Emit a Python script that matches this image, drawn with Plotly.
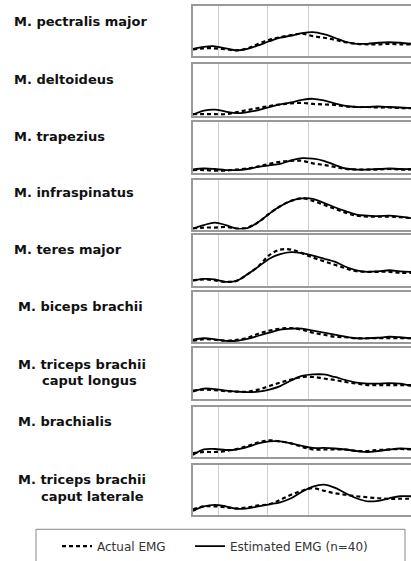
import plotly.graph_objects as go

# shared time axis (percent of cycle, visible part)
x = [0, 5, 10, 15, 20, 25, 30, 35, 40, 45, 50, 55, 60, 65, 70, 75, 80, 85, 90, 95, 100]
grid_x = [11.5, 34.4, 52.8]

muscles = [
    "M. pectralis major",
    "M. deltoideus",
    "M. trapezius",
    "M. infraspinatus",
    "M. teres major",
    "M. biceps brachii",
    "M. triceps brachii|caput longus",
    "M. brachialis",
    "M. triceps brachii|caput laterale",
]

actual_pectralis = [0.14, 0.16, 0.16, 0.14, 0.12, 0.16, 0.25, 0.33, 0.38, 0.42, 0.45, 0.40, 0.37, 0.33, 0.28, 0.25, 0.24, 0.24, 0.25, 0.24, 0.24]
est_pectralis    = [0.15, 0.19, 0.20, 0.16, 0.12, 0.15, 0.22, 0.30, 0.37, 0.41, 0.46, 0.48, 0.44, 0.37, 0.29, 0.25, 0.25, 0.27, 0.28, 0.27, 0.25]

actual_deltoideus = [0.03, 0.03, 0.03, 0.03, 0.07, 0.11, 0.15, 0.19, 0.22, 0.24, 0.25, 0.23, 0.22, 0.21, 0.18, 0.17, 0.17, 0.16, 0.16, 0.15, 0.15]
est_deltoideus    = [0.02, 0.10, 0.12, 0.08, 0.05, 0.07, 0.11, 0.17, 0.22, 0.26, 0.31, 0.33, 0.30, 0.24, 0.19, 0.17, 0.17, 0.18, 0.17, 0.16, 0.15]

actual_trapezius = [0.06, 0.06, 0.05, 0.05, 0.07, 0.09, 0.13, 0.18, 0.22, 0.24, 0.24, 0.19, 0.16, 0.12, 0.08, 0.07, 0.07, 0.07, 0.08, 0.07, 0.07]
est_trapezius    = [0.07, 0.09, 0.08, 0.06, 0.06, 0.08, 0.12, 0.15, 0.18, 0.25, 0.29, 0.28, 0.24, 0.16, 0.09, 0.07, 0.07, 0.08, 0.09, 0.08, 0.08]

actual_infraspinatus = [0.02, 0.04, 0.04, 0.05, 0.02, 0.04, 0.15, 0.32, 0.47, 0.58, 0.63, 0.58, 0.50, 0.42, 0.34, 0.28, 0.26, 0.26, 0.26, 0.25, 0.23]
est_infraspinatus    = [0.02, 0.09, 0.14, 0.09, 0.02, 0.03, 0.15, 0.32, 0.47, 0.58, 0.63, 0.62, 0.54, 0.45, 0.37, 0.30, 0.28, 0.27, 0.28, 0.26, 0.23]

actual_teres = [0.11, 0.13, 0.11, 0.08, 0.10, 0.23, 0.39, 0.61, 0.72, 0.72, 0.65, 0.56, 0.49, 0.42, 0.35, 0.29, 0.28, 0.28, 0.28, 0.26, 0.26]
est_teres    = [0.11, 0.14, 0.13, 0.08, 0.10, 0.23, 0.38, 0.54, 0.63, 0.67, 0.65, 0.60, 0.54, 0.48, 0.38, 0.31, 0.28, 0.29, 0.31, 0.29, 0.28]

actual_biceps = [0.03, 0.06, 0.05, 0.03, 0.05, 0.09, 0.17, 0.23, 0.27, 0.28, 0.25, 0.19, 0.15, 0.11, 0.10, 0.08, 0.08, 0.08, 0.08, 0.08, 0.08]
est_biceps    = [0.05, 0.08, 0.06, 0.03, 0.03, 0.07, 0.13, 0.19, 0.25, 0.27, 0.27, 0.23, 0.19, 0.15, 0.11, 0.08, 0.08, 0.09, 0.11, 0.10, 0.08]

actual_tric_long = [0.16, 0.18, 0.17, 0.15, 0.14, 0.14, 0.18, 0.25, 0.32, 0.38, 0.43, 0.43, 0.40, 0.37, 0.33, 0.30, 0.27, 0.27, 0.27, 0.27, 0.27]
est_tric_long    = [0.14, 0.20, 0.19, 0.16, 0.14, 0.13, 0.14, 0.18, 0.25, 0.36, 0.45, 0.48, 0.48, 0.43, 0.37, 0.32, 0.30, 0.30, 0.31, 0.30, 0.25]

actual_brachialis = [0.08, 0.10, 0.10, 0.12, 0.16, 0.22, 0.29, 0.33, 0.31, 0.27, 0.20, 0.15, 0.15, 0.15, 0.15, 0.12, 0.12, 0.14, 0.15, 0.16, 0.15]
est_brachialis    = [0.04, 0.15, 0.16, 0.14, 0.15, 0.20, 0.27, 0.31, 0.31, 0.27, 0.22, 0.18, 0.18, 0.17, 0.15, 0.12, 0.10, 0.12, 0.15, 0.17, 0.16]

actual_tric_lat = [0.12, 0.18, 0.18, 0.16, 0.14, 0.16, 0.20, 0.22, 0.31, 0.41, 0.49, 0.54, 0.49, 0.44, 0.41, 0.38, 0.36, 0.34, 0.33, 0.33, 0.33]
est_tric_lat    = [0.09, 0.18, 0.21, 0.18, 0.13, 0.14, 0.18, 0.22, 0.26, 0.34, 0.47, 0.57, 0.61, 0.55, 0.44, 0.34, 0.28, 0.29, 0.34, 0.38, 0.38]

actual = [actual_pectralis, actual_deltoideus, actual_trapezius, actual_infraspinatus, actual_teres,
          actual_biceps, actual_tric_long, actual_brachialis, actual_tric_lat]
estimated = [est_pectralis, est_deltoideus, est_trapezius, est_infraspinatus, est_teres,
             est_biceps, est_tric_long, est_brachialis, est_tric_lat]

W, H = 411, 561
panel_top = [6, 65, 123, 182, 238, 295, 352, 411, 470]
panel_bot = [57, 117, 175, 232, 289, 346, 403, 462, 521]
label_pos = [  # (x, y) px for each line
    [(12, 22)], [(12, 80)], [(12, 138)], [(12, 195)], [(12, 252)],
    [(16, 310)], [(16, 368), (40, 385)], [(16, 426)], [(16, 485), (39, 502)],
]

fig = go.Figure()
layout = dict(
    width=W, height=H, margin=dict(l=0, r=0, t=0, b=0),
    paper_bgcolor="white", plot_bgcolor="white",
    showlegend=True,
)
annotations = []
for i in range(9):
    n = "" if i == 0 else str(i + 1)
    fig.add_trace(go.Scatter(
        x=x, y=actual[i], mode="lines", name="Actual EMG",
        line=dict(color="black", width=2.2, dash="4px,3px", shape="spline"),
        xaxis="x" + n, yaxis="y" + n, showlegend=(i == 0), legend="legend",
    ))
    fig.add_trace(go.Scatter(
        x=x, y=estimated[i], mode="lines", name="Estimated EMG (n=40)",
        line=dict(color="black", width=1.8, shape="spline"),
        xaxis="x" + n, yaxis="y" + n, showlegend=(i == 0), legend="legend2",
    ))
    layout["xaxis" + n] = dict(
        domain=[193 / W, 1], range=[0, 100], anchor="y" + n,
        tickvals=grid_x, showgrid=True, gridcolor="#cfcfcf", gridwidth=1,
        showticklabels=False, ticks="", zeroline=False,
        showline=True, linecolor="#999999", linewidth=1.5, mirror=True,
    )
    layout["yaxis" + n] = dict(
        domain=[1 - panel_bot[i] / H, 1 - panel_top[i] / H], range=[0, 1], anchor="x" + n,
        showgrid=False, showticklabels=False, ticks="", zeroline=False,
        showline=True, linecolor="#999999", linewidth=1.5, mirror=False,
    )
    for line_text, (px, py) in zip(muscles[i].split("|"), label_pos[i]):
        annotations.append(dict(
            text=line_text, xref="paper", yref="paper", x=px / W, y=1 - py / H,
            xanchor="left", yanchor="middle", showarrow=False,
            font=dict(family="DejaVu Sans", size=13, color="#111111", weight="bold"),
        ))

layout["annotations"] = annotations
layout["shapes"] = [dict(
    type="rect", xref="paper", yref="paper",
    x0=36 / W, x1=405 / W, y0=1 - 535 / H, y1=-0.05,
    line=dict(color="#888888", width=1), fillcolor="rgba(0,0,0,0)",
)]
legend_font = dict(family="DejaVu Sans", size=12, color="#333333")
layout["legend"] = dict(
    orientation="h", x=57 / W, xanchor="left", y=1 - 552 / H, yanchor="middle",
    font=legend_font, bgcolor="rgba(0,0,0,0)", borderwidth=0,
)
layout["legend2"] = dict(
    orientation="h", x=190 / W, xanchor="left", y=1 - 552 / H, yanchor="middle",
    font=legend_font, bgcolor="rgba(0,0,0,0)", borderwidth=0,
)
fig.update_layout(**layout)
fig.write_html("out.html", config={"displayModeBar": False},
               post_script="document.body.style.margin='0';")
